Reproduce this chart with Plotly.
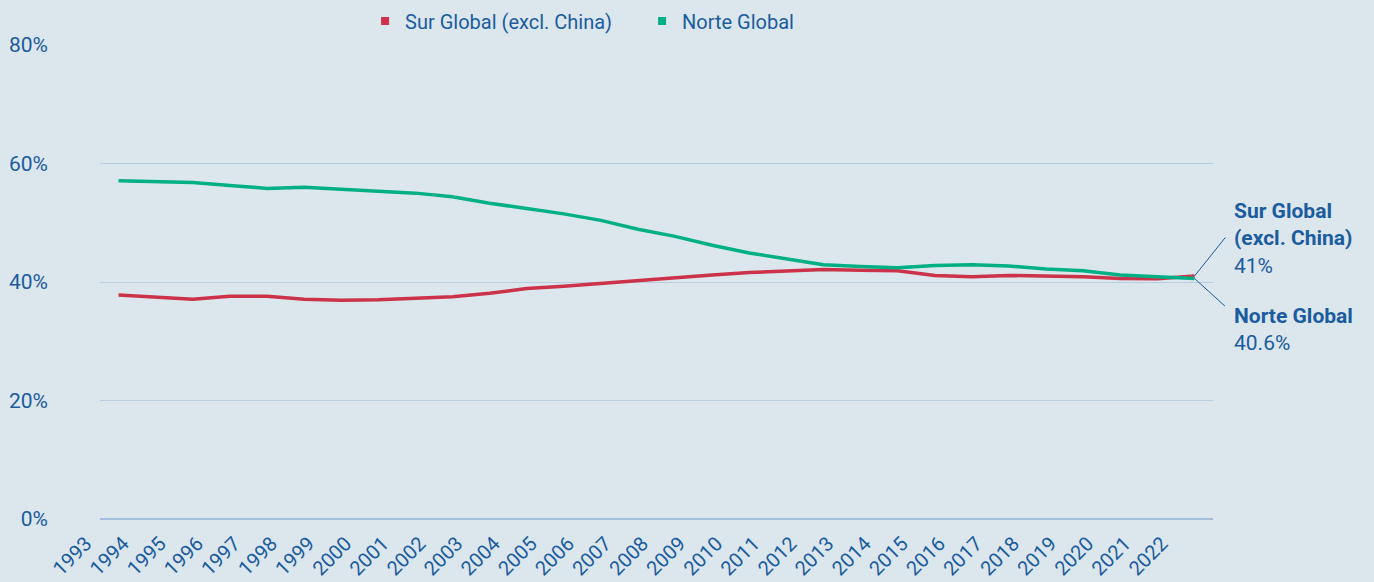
import plotly.graph_objects as go

years = list(range(1993, 2023))
sur_global = [37.8, 37.4, 37.1, 37.6, 37.6, 37.1, 36.9, 37.0, 37.2, 37.5,
              38.1, 38.9, 39.3, 39.8, 40.3, 40.8, 41.2, 41.6, 41.9, 42.1,
              42.0, 41.9, 41.1, 40.9, 41.1, 41.0, 40.9, 40.6, 40.55, 41.0]
norte_global = [57.1, 57.0, 56.8, 56.3, 55.8, 56.0, 55.7, 55.4, 55.0, 54.4,
                53.3, 52.4, 51.5, 50.4, 48.9, 47.7, 46.2, 44.9, 43.9, 42.9,
                42.6, 42.4, 42.8, 42.9, 42.7, 42.2, 41.9, 41.2, 40.9, 40.6]
y_ticks = [0, 20, 40, 60, 80]

BG = "#dce6ed"
TEXT = "#1a5c9e"
RED = "#cc3249"
GREEN = "#00b084"
GRID = "#b9cfe1"

series = [
    ("Sur Global (excl. China)", sur_global, RED),
    ("Norte Global", norte_global, GREEN),
]

fig = go.Figure()
for name, vals, color in series:
    fig.add_trace(go.Scatter(
        x=years, y=vals, mode="lines", name=name, legendgroup=name,
        showlegend=False, line=dict(color=color, width=3.5),
    ))
# legend keys are small squares, as in the original
for name, vals, color in series:
    fig.add_trace(go.Scatter(
        x=[None], y=[None], mode="markers", name=name, legendgroup=name,
        marker=dict(symbol="square", size=8, color=color),
    ))

last_x = years[-1]
# leader lines: text-less annotations so the arrow isn't clipped by the plot area
for val, dy in [(sur_global[-1], -40), (norte_global[-1], 29)]:
    fig.add_annotation(
        x=last_x, y=val, xref="x", yref="y", text="", showarrow=True,
        arrowhead=0, arrowwidth=1, arrowcolor=TEXT, ax=32, ay=dy,
        standoff=0, startstandoff=0,
    )

fig.add_annotation(
    x=last_x, y=sur_global[-1], xref="x", yref="y", showarrow=False,
    xanchor="left", yanchor="bottom", xshift=38, yshift=-4, align="left",
    text=f"<b>Sur Global<br>(excl. China)</b><br>{sur_global[-1]:g}%",
    font=dict(size=21, color=TEXT),
)
fig.add_annotation(
    x=last_x, y=norte_global[-1], xref="x", yref="y", showarrow=False,
    xanchor="left", yanchor="top", xshift=38, yshift=-24, align="left",
    text=f"<b>Norte Global</b><br>{norte_global[-1]:g}%",
    font=dict(size=21, color=TEXT),
)

fig.update_xaxes(
    range=[years[0] - 0.5, years[-1] + 0.5],
    tickvals=[y - 0.5 for y in years],
    ticktext=[str(y) for y in years],
    tickangle=-45,
    ticklabelshift=-14,
    ticklabelstandoff=8,
    showgrid=False,
    zeroline=False,
    showline=False,
    automargin=False,
    tickfont=dict(size=20, color=TEXT),
)
fig.update_yaxes(
    range=[0, 80],
    tickvals=y_ticks,
    ticktext=[f"{v}%" for v in y_ticks],
    showgrid=True, gridcolor=GRID, gridwidth=1,
    zeroline=True, zerolinecolor="#a3bfd9", zerolinewidth=2,
    ticklabelstandoff=51,
    automargin=False,
    tickfont=dict(size=21, color=TEXT),
)

fig.update_layout(
    width=1374, height=582,
    paper_bgcolor=BG, plot_bgcolor=BG,
    font=dict(family="Roboto", color=TEXT),
    margin=dict(l=100, r=161, t=45, b=63),
    legend=dict(
        orientation="h", xref="container", yref="container",
        x=0.2657, y=0.964, xanchor="left", yanchor="middle",
        font=dict(size=20, color=TEXT), entrywidth=232, entrywidthmode="pixels",
        bgcolor="rgba(0,0,0,0)",
    ),
)

fig.write_html("out.html", config={"displayModeBar": False},
               post_script="document.body.style.margin='0';")
